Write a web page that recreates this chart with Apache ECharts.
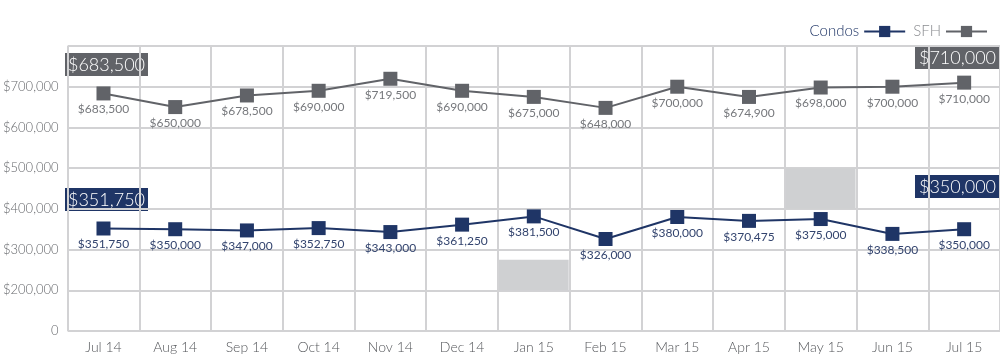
<!DOCTYPE html>
<html><head><meta charset="utf-8">
<script src="https://cdn.jsdelivr.net/npm/echarts@6/dist/echarts.min.js"></script>
<style>html,body{margin:0;padding:0;background:#fff}#c{width:1000px;height:356px}</style>
</head><body><div id="c"></div>
<script>
const categories = ['Jul 14','Aug 14','Sep 14','Oct 14','Nov 14','Dec 14','Jan 15','Feb 15','Mar 15','Apr 15','May 15','Jun 15','Jul 15'];
const condos = [351750, 350000, 347000, 352750, 343000, 361250, 381500, 326000, 380000, 370475, 375000, 338500, 350000];
const sfh = [683500, 650000, 678500, 690000, 719500, 690000, 675000, 648000, 700000, 674900, 698000, 700000, 710000];
const yTicks = [100000, 200000, 300000, 400000, 500000, 600000, 700000, 800000];
const shadeCats = ['Jan 15', 'May 15'];
const shadeLow = [200000, 400000];
const shadeHigh = [275000, 500000];

const NAVY = '#1f3566', GRAY = '#616368', GRID = '#d2d2d4', FONT = 'Lato, "Open Sans", sans-serif';
const money = v => '$' + v.toLocaleString('en-US');

const chart = echarts.init(document.getElementById('c'), null, {renderer: 'canvas'});
chart.setOption({
  animation: false,
  textStyle: {fontFamily: FONT, fontWeight: 300},
  grid: {left: 65, right: 0, top: 46, bottom: 25},
  legend: {
    right: 7, top: 19, align: 'right', itemWidth: 41, itemHeight: 14, itemGap: 7,
    textStyle: {fontSize: 15, fontFamily: FONT, fontWeight: 300},
    data: [
      {name: 'Condos', textStyle: {color: NAVY}},
      {name: 'SFH', textStyle: {color: '#8a8c90'}}
    ]
  },
  xAxis: {
    type: 'category', data: categories, boundaryGap: true,
    axisLine: {show: false}, axisTick: {show: false},
    axisLabel: {color: '#55575b', fontSize: 14, fontWeight: 300, fontFamily: FONT, margin: 9, interval: 0},
    splitLine: {show: true, interval: 0, lineStyle: {color: GRID, width: 2}}
  },
  yAxis: {
    type: 'value', min: yTicks[0], max: yTicks[yTicks.length - 1], interval: 100000,
    axisLine: {show: false}, axisTick: {show: false},
    axisLabel: {
      color: '#66686c', fontSize: 13, fontWeight: 300, fontFamily: FONT, margin: 9,
      formatter: v => v === yTicks[0] ? '0' : (v === yTicks[yTicks.length - 1] ? '' : money(v))
    },
    splitLine: {lineStyle: {color: GRID, width: 2}}
  },
  series: [
    {
      name: 'Shade', type: 'custom', silent: true, z: 1,
      data: shadeCats.map((c, i) => [categories.indexOf(c), shadeLow[i], shadeHigh[i]]),
      renderItem: (params, api) => {
        const p1 = api.coord([api.value(0), api.value(2)]);
        const p2 = api.coord([api.value(0), api.value(1)]);
        const w = api.size([1, 0])[0];
        return {type: 'rect', shape: {x: p1[0] - w / 2 + 1, y: p1[1], width: w - 2, height: p2[1] - p1[1]},
                style: {fill: '#cfd0d2'}};
      }
    },
    {
      name: 'Condos', type: 'line', data: condos, z: 3,
      symbol: 'rect', symbolSize: 14,
      lineStyle: {color: NAVY, width: 2}, itemStyle: {color: NAVY},
      label: {show: true, position: 'bottom', distance: 3, color: '#33446e', fontSize: 12, fontWeight: 400, fontFamily: FONT, formatter: p => money(p.value)}
    },
    {
      name: 'SFH', type: 'line', data: sfh, z: 3,
      symbol: 'rect', symbolSize: 14,
      lineStyle: {color: GRAY, width: 2}, itemStyle: {color: GRAY},
      label: {show: true, position: 'bottom', distance: 3, color: '#76787c', fontSize: 12, fontWeight: 400, fontFamily: FONT, formatter: p => money(p.value)}
    }
  ],
  graphic: [
    {type: 'group', left: 65, top: 53, children: [
      {type: 'rect', shape: {x: 0, y: 0, width: 83, height: 23}, style: {fill: GRAY}},
      {type: 'text', x: 41.5, y: 12, style: {text: money(sfh[0]), fill: '#fff', font: '300 18px ' + FONT, align: 'center', verticalAlign: 'middle'}}
    ]},
    {type: 'group', left: 915, top: 47, children: [
      {type: 'rect', shape: {x: 0, y: 0, width: 85, height: 22}, style: {fill: GRAY}},
      {type: 'text', x: 42.5, y: 11.5, style: {text: money(sfh[sfh.length - 1]), fill: '#fff', font: '300 18px ' + FONT, align: 'center', verticalAlign: 'middle'}}
    ]},
    {type: 'group', left: 65, top: 188, children: [
      {type: 'rect', shape: {x: 0, y: 0, width: 83, height: 23}, style: {fill: NAVY}},
      {type: 'text', x: 41.5, y: 12, style: {text: money(condos[0]), fill: '#fff', font: '300 18px ' + FONT, align: 'center', verticalAlign: 'middle'}}
    ]},
    {type: 'group', left: 915, top: 175, children: [
      {type: 'rect', shape: {x: 0, y: 0, width: 85, height: 23}, style: {fill: NAVY}},
      {type: 'text', x: 42.5, y: 12, style: {text: money(condos[condos.length - 1]), fill: '#fff', font: '300 18px ' + FONT, align: 'center', verticalAlign: 'middle'}}
    ]}
  ]
});
</script></body></html>
